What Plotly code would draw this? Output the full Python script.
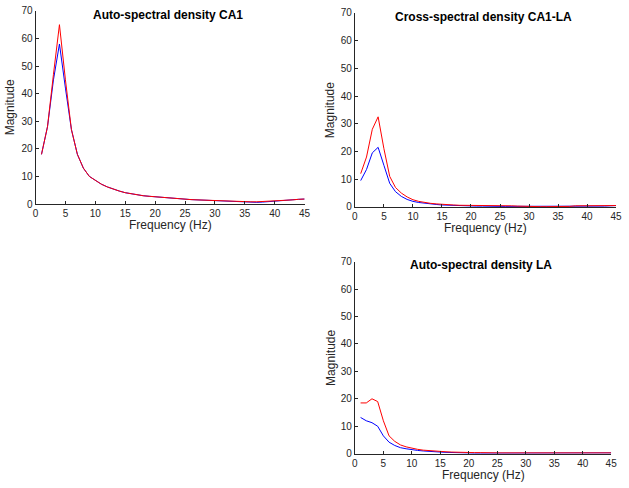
import plotly.graph_objects as go

W, H = 629, 488

freq = list(range(1, 46))

# Auto-spectral density CA1
ca1_red = [18, 28, 47, 65, 45, 27, 18, 13, 10, 8.5, 7.2, 6.2, 5.4, 4.7, 4.1, 3.7, 3.3, 3.0, 2.8, 2.6,
           2.4, 2.2, 2.0, 1.9, 1.8, 1.6, 1.5, 1.4, 1.3, 1.2, 1.2, 1.1, 1.1, 1.0, 0.9, 0.8, 0.8, 0.9, 1.0, 1.0,
           1.1, 1.3, 1.5, 1.7, 1.8]
ca1_blue = [18, 28, 45, 58, 42, 27, 18, 13, 10, 8.5, 7.2, 6.2, 5.4, 4.7, 4.1, 3.7, 3.3, 3.0, 2.8, 2.6,
            2.4, 2.2, 2.0, 1.9, 1.8, 1.6, 1.5, 1.4, 1.3, 1.2, 1.2, 1.1, 1.1, 1.0, 0.8, 0.6, 0.6, 0.7, 0.9, 1.0,
            1.1, 1.3, 1.5, 1.7, 1.8]

# Cross-spectral density CA1-LA
cross_red = [12, 18, 28, 32.5, 21, 11, 7, 5, 3.6, 2.6, 2.0, 1.6, 1.3, 1.1, 0.9, 0.8, 0.7, 0.6, 0.6, 0.5,
             0.5, 0.5, 0.4, 0.4, 0.4, 0.4, 0.4, 0.3, 0.2, 0.1, 0.1, 0.1, 0.1, 0.1, 0.1, 0.1, 0.2, 0.4, 0.4, 0.4,
             0.4, 0.4, 0.4, 0.4, 0.5]
cross_blue = [9.5, 13.5, 19.5, 21.5, 15, 8.5, 5.5, 3.8, 2.7, 2.0, 1.6, 1.3, 1.1, 0.9, 0.7, 0.6, 0.5, 0.4, 0.4, 0.3,
              0.3, 0.3, 0.2, 0.2, 0.2, 0.2, 0.2, 0.1, 0.1, 0.1, 0.1, 0.1, 0.1, 0.1, 0.1, 0.1, 0.1, 0.1, 0.2, 0.2,
              0.2, 0.2, 0.3, 0.4, 0.5]

# Auto-spectral density LA
la_red = [18.5, 18.5, 20, 19, 12, 6.5, 4.5, 3.2, 2.5, 2.0, 1.6, 1.3, 1.1, 0.9, 0.8, 0.7, 0.6, 0.5, 0.5, 0.4,
          0.4, 0.4, 0.3, 0.3, 0.3, 0.3, 0.3, 0.3, 0.3, 0.3, 0.3, 0.3, 0.3, 0.3, 0.3, 0.3, 0.3, 0.3, 0.3, 0.3,
          0.3, 0.3, 0.3, 0.3, 0.3]
la_blue = [13.2, 12, 11.3, 10, 6.5, 4.2, 3.0, 2.2, 1.8, 1.4, 1.2, 1.0, 0.8, 0.7, 0.6, 0.5, 0.4, 0.4, 0.3, 0.3,
           0.2, 0.2, 0.2, 0.2, 0.2, 0.2, 0.2, 0.2, 0.3, 0.3, 0.3, 0.2, 0.2, 0.2, 0.2, 0.2, 0.2, 0.3, 0.4, 0.4,
           0.4, 0.3, 0.3, 0.3, 0.3]

titles = ["Auto-spectral density CA1", "Cross-spectral density CA1-LA", "Auto-spectral density LA"]
x_ticks = [0, 5, 10, 15, 20, 25, 30, 35, 40, 45]
y_ticks = [0, 10, 20, 30, 40, 50, 60, 70]

# panel boxes in pixels: (left, right, top, bottom)
boxes = [(33, 306, 5, 203), (357, 622, 7, 206), (357, 617, 262, 459)]
series = [(ca1_blue, ca1_red), (cross_blue, cross_red), (la_blue, la_red)]

FONT = "Liberation Sans, Arial, Helvetica, sans-serif"

fig = go.Figure()
annotations = []
for i, ((l, r, t, b), (blue, red), title) in enumerate(zip(boxes, series, titles)):
    n = "" if i == 0 else str(i + 1)
    xa, ya = "x" + n, "y" + n
    fig.add_trace(go.Scatter(x=freq, y=blue, mode="lines", line=dict(color="#0000ff", width=1),
                             xaxis=xa, yaxis=ya, showlegend=False))
    fig.add_trace(go.Scatter(x=freq, y=red, mode="lines", line=dict(color="#ff0000", width=1),
                             xaxis=xa, yaxis=ya, showlegend=False))
    axcommon = dict(showgrid=False, zeroline=False, showline=True, linecolor="#262626", linewidth=1,
                    ticks="inside", ticklen=3, tickcolor="#262626", mirror=False,
                    tickfont=dict(family=FONT, size=10, color="#262626"))
    fig.update_layout(**{
        "xaxis" + n: dict(domain=[l / W, r / W], range=[0, 45], tickvals=x_ticks, anchor=ya, **axcommon),
        "yaxis" + n: dict(domain=[1 - b / H, 1 - t / H], range=[0, 70], tickvals=y_ticks, anchor=xa, **axcommon),
    })
    cx = (l + r) / 2
    annotations.append(dict(text="<b>%s</b>" % title, x=(cx - 2) / W, y=1 - (t + 4) / H, xref="paper", yref="paper",
                            xanchor="center", yanchor="middle", showarrow=False,
                            font=dict(family=FONT, size=12, color="black")))
    annotations.append(dict(text="Frequency (Hz)", x=cx / W, y=1 - (b + 22) / H, xref="paper", yref="paper",
                            xanchor="center", yanchor="middle", showarrow=False,
                            font=dict(family=FONT, size=12, color="#262626")))
    annotations.append(dict(text="Magnitude", x=(l - 25) / W, y=1 - ((t + b) / 2) / H, xref="paper", yref="paper",
                            xanchor="center", yanchor="middle", showarrow=False, textangle=-90,
                            font=dict(family=FONT, size=12, color="#262626")))

fig.update_layout(width=W, height=H, margin=dict(l=0, r=0, t=0, b=0), autosize=False,
                  paper_bgcolor="white", plot_bgcolor="white", annotations=annotations)

fig.write_html("out.html", config={"displayModeBar": False},
               post_script="document.body.style.margin='0';document.body.style.overflow='hidden';")
